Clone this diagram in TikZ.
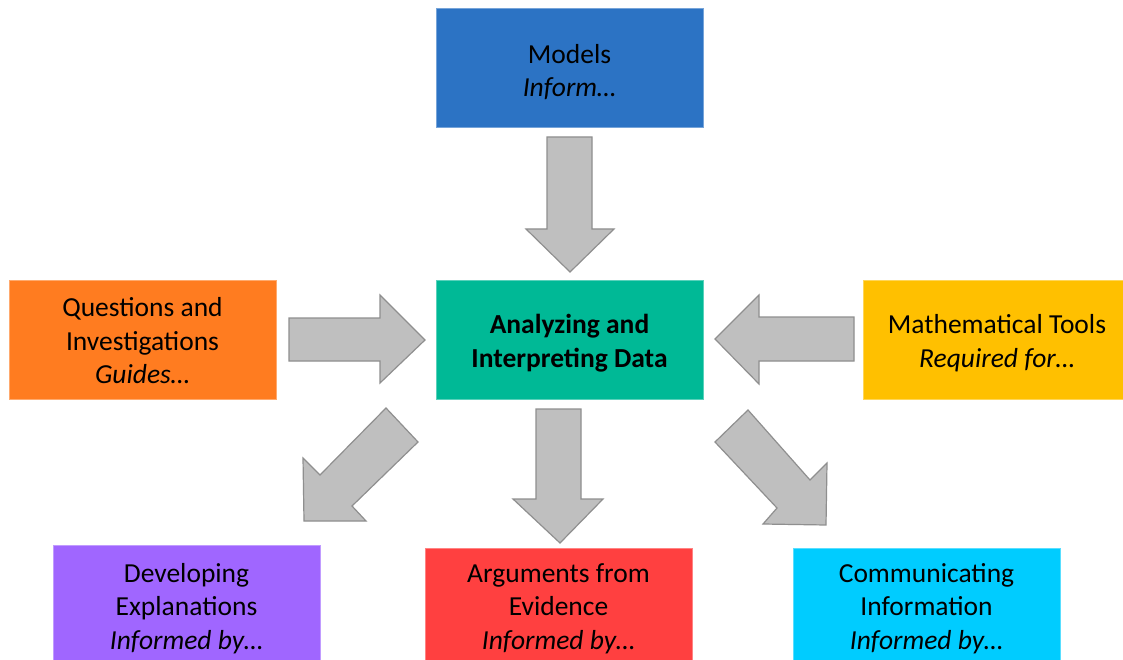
\documentclass[tikz,border=0pt]{standalone}
\usepackage{fontspec}
\setmainfont{Carlito}
\definecolor{cblue}{HTML}{2C73C4}
\definecolor{cteal}{HTML}{00B996}
\definecolor{corange}{HTML}{FF7C20}
\definecolor{camber}{HTML}{FFC000}
\definecolor{cpurple}{HTML}{A066FF}
\definecolor{cred}{HTML}{FF4040}
\definecolor{ccyan}{HTML}{00CCFF}
\definecolor{arrowfill}{HTML}{BFBFBF}
\definecolor{arrowdraw}{HTML}{8F8F8F}
\tikzset{
  box/.style={rectangle, draw=#1!65!white, fill=#1, line width=1pt,
    minimum width=267pt, minimum height=119pt, inner sep=0pt},
  boxtext/.style={align=center, text=black, inner sep=0pt,
    font=\fontsize{27.5}{33.5}\selectfont},
  blockarrow/.style={fill=arrowfill, draw=arrowdraw, line width=1.2pt, line join=miter}
}
\begin{document}
\begin{tikzpicture}[x=1pt,y=-1pt]
\useasboundingbox (0,0) rectangle (1123,660);
\clip (0,0) rectangle (1123,660);
\fill[white] (0,0) rectangle (1123,660);
% boxes
\node[box=cblue] (models) at (569.5,68.5) {};
\node[boxtext] (modelst) at ([yshift=-3.5pt]models.center) {Models\\\textit{Inform…}};
\node[box=cteal] (center) at (569.5,339.5) {};
\node[boxtext] (centert) at ([yshift=-3.5pt]center.center) {\textbf{Analyzing and}\\\textbf{Interpreting Data}};
\node[box=corange] (quest) at (142.5,339.5) {};
\node[boxtext] (questt) at ([yshift=-1.5pt]quest.center) {Questions and\\Investigations\\\textit{Guides…}};
\node[box=camber] (math) at (997,339.5) {};
\node[boxtext] (matht) at ([yshift=-3.5pt]math.center) {Mathematical Tools\\\textit{Required for…}};
\node[box=cpurple, minimum height=122pt] (dev) at (186.5,606) {};
\node[boxtext] (devt) at ([yshift=-2.5pt]dev.center) {Developing\\Explanations\\\textit{Informed by…}};
\node[box=cred, minimum height=116pt] (arg) at (558.5,606) {};
\node[boxtext] (argt) at ([yshift=-2.5pt]arg.center) {Arguments from\\Evidence\\\textit{Informed by…}};
\node[box=ccyan, minimum height=116pt] (comm) at (926.5,606) {};
\node[boxtext] (commt) at ([yshift=-2.5pt]comm.center) {Communicating\\Information\\\textit{Informed by…}};
% block arrows
% models -> center
\draw[blockarrow] (547,137) -- (592,137) -- (592,229) -- (614,229) -- (570,272) -- (526,229) -- (547,229) -- cycle;
% quest -> center
\draw[blockarrow] (289,318) -- (380,318) -- (380,295) -- (425,340) -- (380,383) -- (380,361) -- (289,361) -- cycle;
% math -> center
\draw[blockarrow] (854,317) -- (759,317) -- (759,295) -- (715,339) -- (759,384) -- (759,361) -- (854,361) -- cycle;
% center -> dev
\draw[blockarrow] (386,408) -- (418,442) -- (352,506) -- (366,521) -- (304,521) -- (303,458) -- (320,475) -- cycle;
% center -> arg
\draw[blockarrow] (536,409) -- (581,409) -- (581,499) -- (603,499) -- (560,543) -- (513,499) -- (536,499) -- cycle;
% center -> comm
\draw[blockarrow] (748,410) -- (810,480) -- (827,463) -- (826,525) -- (763,524) -- (777,508) -- (715,442) -- cycle;
\end{tikzpicture}
\end{document}
